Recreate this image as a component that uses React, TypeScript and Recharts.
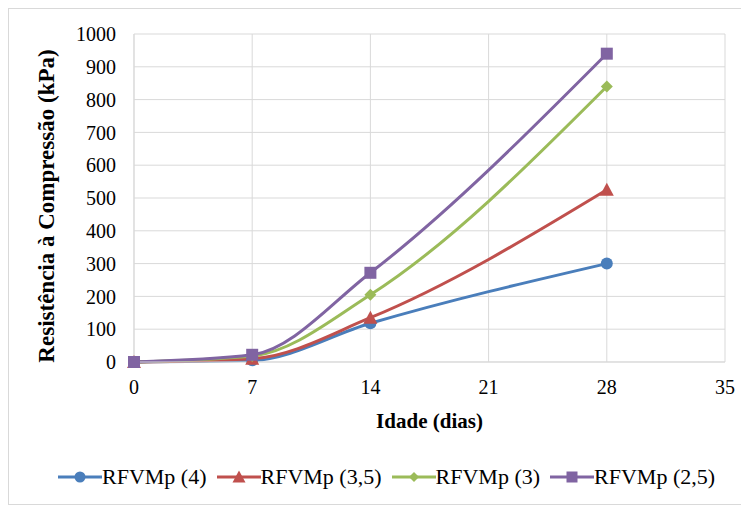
import React from 'react';
import { LineChart, Line, XAxis, YAxis, CartesianGrid, Legend } from 'recharts';

const days = [0, 7, 14, 28];
const rfvmp4 = [0, 5, 118, 300];
const rfvmp35 = [0, 10, 135, 525];
const rfvmp3 = [0, 18, 205, 840];
const rfvmp25 = [0, 22, 272, 940];
const xTicks = [0, 7, 14, 21, 28, 35];
const yTicks = [0, 100, 200, 300, 400, 500, 600, 700, 800, 900, 1000];

const series = [
    { key: 'a', name: 'RFVMp (4)', values: rfvmp4, color: '#4A7EBB', shape: 'circle' },
    { key: 'b', name: 'RFVMp (3,5)', values: rfvmp35, color: '#C0504D', shape: 'triangle' },
    { key: 'c', name: 'RFVMp (3)', values: rfvmp3, color: '#9BBB59', shape: 'diamond' },
    { key: 'd', name: 'RFVMp (2,5)', values: rfvmp25, color: '#8064A2', shape: 'square' },
];

const data = days.map((d, i) => {
    const row: any = { day: d };
    series.forEach((s) => { row[s.key] = s.values[i]; });
    return row;
});

const FONT = '"Liberation Serif", "Times New Roman", serif';

const Marker = ({ shape, color, cx, cy, size = 6 }: { shape: string; color: string; cx: number; cy: number; size?: number }) => {
    const s = size;
    if (shape === 'circle') return <circle cx={cx} cy={cy} r={s} fill={color} />;
    if (shape === 'triangle')
        return <polygon points={`${cx},${cy - s - 1} ${cx + s + 1},${cy + s} ${cx - s - 1},${cy + s}`} fill={color} />;
    if (shape === 'diamond')
        return <polygon points={`${cx},${cy - s} ${cx + s},${cy} ${cx},${cy + s} ${cx - s},${cy}`} fill={color} />;
    return <rect x={cx - s} y={cy - s} width={s * 2} height={s * 2} fill={color} />;
};

const makeDot = (shape: string, color: string) => (props: any) => {
    const { cx, cy, index } = props;
    if (cx == null || cy == null) return <g key={index} />;
    return <Marker key={index} shape={shape} color={color} cx={cx} cy={cy} />;
};

const renderLegend = () => (
    <div style={{ display: 'flex', justifyContent: 'flex-start', paddingLeft: 49, height: 28, alignItems: 'center', whiteSpace: 'nowrap', fontFamily: FONT, fontSize: 22, color: '#000' }}>
        {series.map((s) => (
            <div key={s.key} style={{ display: 'flex', flexShrink: 0, alignItems: 'center', marginRight: 10 }}>
                <svg width={44} height={20}>
                    <line x1={0} y1={10} x2={44} y2={10} stroke={s.color} strokeWidth={3} />
                    <Marker shape={s.shape} color={s.color} cx={22} cy={10} size={s.shape === 'diamond' ? 5 : 5.5} />
                </svg>
                <span>{s.name}</span>
            </div>
        ))}
    </div>
);

export default function App() {
    return (
        <div style={{ width: 741, height: 497, border: '1px solid #d9d9d9', boxSizing: 'border-box', background: '#fff' }}>
            <LineChart width={739} height={495} data={data} margin={{ top: 25, right: 23, bottom: 44, left: 0 }}>
                <CartesianGrid stroke="#d9d9d9" strokeWidth={1} />
                <XAxis
                    dataKey="day"
                    type="number"
                    domain={[0, 35]}
                    ticks={xTicks}
                    interval={0}
                    tickLine={false}
                    axisLine={{ stroke: '#d9d9d9' }}
                    tick={{ fill: '#000', fontSize: 20, fontFamily: FONT }}
                    tickMargin={12}
                    height={70}
                    label={{ value: 'Idade (dias)', position: 'insideBottom', offset: 4, style: { fill: '#000', fontSize: 21, fontWeight: 'bold', fontFamily: FONT } }}
                />
                <YAxis
                    domain={[0, 1000]}
                    ticks={yTicks}
                    interval={0}
                    tickLine={false}
                    axisLine={{ stroke: '#d9d9d9' }}
                    tick={{ fill: '#000', fontSize: 20, fontFamily: FONT }}
                    tickMargin={12}
                    width={125}
                    label={{ value: 'Resistência à Compressão (kPa)', angle: -90, position: 'insideLeft', offset: 37, dy: 8, style: { textAnchor: 'middle', fill: '#000', fontSize: 23, fontWeight: 'bold', fontFamily: FONT } }}
                />
                <Legend verticalAlign="bottom" content={renderLegend} wrapperStyle={{ bottom: 13, left: 0, width: 739 }} />
                {series.map((s) => (
                    <Line
                        key={s.key}
                        dataKey={s.key}
                        name={s.name}
                        type="monotone"
                        stroke={s.color}
                        strokeWidth={3}
                        dot={makeDot(s.shape, s.color)}
                        activeDot={false}
                        isAnimationActive={false}
                    />
                ))}
            </LineChart>
        </div>
    );
}
